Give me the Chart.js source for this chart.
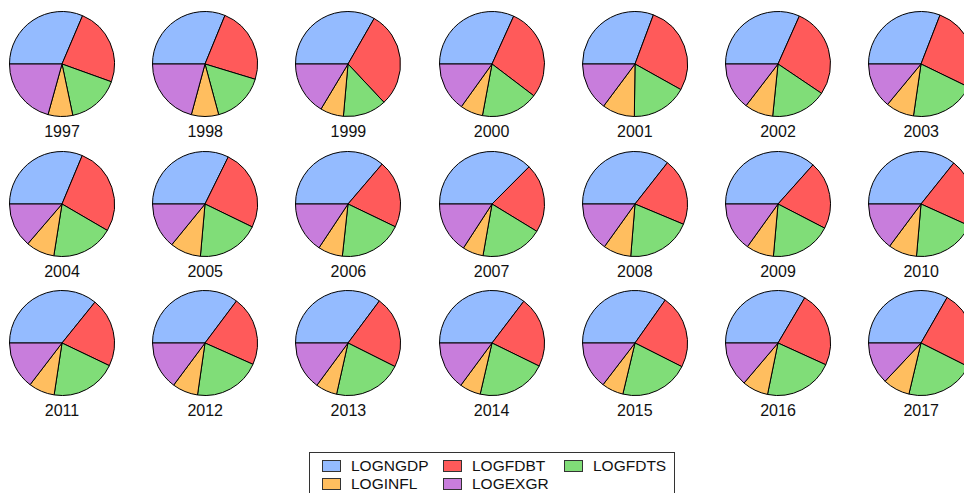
<!DOCTYPE html>
<html>
<head>
<meta charset="utf-8">
<script src="https://cdn.jsdelivr.net/npm/chart.js@4.4.1/dist/chart.umd.min.js"></script>
<style>
    html, body {
        margin: 0;
        padding: 0;
        width: 964px;
        height: 493px;
        overflow: hidden;
        background: #fff;
        font-family: "Liberation Sans", Arial, sans-serif;
    }
    #wrap {
        position: relative;
        width: 964px;
        height: 493px;
    }
    .pie {
        position: absolute;
    }
    .year {
        position: absolute;
        width: 100px;
        text-align: center;
        font-size: 16px;
        color: #111;
        line-height: 18px;
    }
    #legend {
        position: absolute;
        left: 309px;
        top: 452px;
        width: 366px;
        height: 60px;
        border: 1px solid #333;
        box-sizing: border-box;
    }
    .item {
        position: absolute;
        font-size: 15.5px;
        color: #111;
        line-height: 18px;
    }
    .item span {
        display: inline-block;
        width: 17px;
        height: 10px;
        border: 1px solid #333;
        margin-right: 10px;
        vertical-align: -1px;
    }
</style>
</head>
<body>
<div id="wrap"></div>

<script>
// Data (shares of each pie, clockwise from 9 o'clock)
const years = ['1997', '1998', '1999', '2000', '2001', '2002', '2003',
    '2004', '2005', '2006', '2007', '2008', '2009', '2010',
    '2011', '2012', '2013', '2014', '2015', '2016', '2017'];
const series = ['LOGNGDP', 'LOGFDBT', 'LOGFDTS', 'LOGINFL', 'LOGEXGR'];
const logngdp = [31.4, 31.2, 33.3, 31.8, 30.7, 31.7, 30.9,
    31.3, 32.3, 36.3, 37.4, 35.6, 36.6, 35.7,
    35.8, 35.2, 35.2, 35.4, 34.8, 33.5, 33.3];
const logfdbt = [24.1, 23.5, 29.7, 28.6, 27.4, 27.8, 26.3,
    27.1, 24.9, 20.9, 21.2, 20.7, 21.0, 21.0,
    21.3, 21.4, 22.2, 21.9, 22.7, 23.3, 24.1];
const logfdts = [16.2, 16.1, 13.4, 17.6, 17.1, 17.2, 20.1,
    19.1, 19.2, 19.6, 19.0, 20.0, 18.8, 19.6,
    20.3, 20.6, 21.1, 21.4, 21.3, 21.4, 21.3];
const loginfl = [7.6, 8.4, 7.2, 7.0, 10.0, 8.8, 8.7,
    8.8, 9.5, 7.6, 6.4, 8.6, 8.5, 8.8,
    8.0, 7.9, 6.6, 6.5, 6.7, 8.0, 8.3];
const logexgr = [20.7, 20.8, 16.4, 15.1, 14.8, 14.6, 14.0,
    13.7, 14.1, 15.7, 15.8, 15.1, 15.1, 14.8,
    14.6, 14.8, 14.9, 14.9, 14.6, 13.8, 13.0];

const colors = [
    'rgb(148,187,255)',
    'rgb(255,90,90)',
    'rgb(128,221,120)',
    'rgb(255,190,95)',
    'rgb(200,125,220)'
];

// grid of small pies
const cols = 7;
const x0 = 62, dx = 143.2;
const y0 = 64, dy = 139.5;
const size = 106;

const wrap = document.getElementById('wrap');

years.forEach(function(year, i) {
    const cx = x0 + (i % cols) * dx;
    const cy = y0 + Math.floor(i / cols) * dy;

    const canvas = document.createElement('canvas');
    canvas.className = 'pie';
    canvas.width = size;
    canvas.height = size;
    canvas.style.left = (cx - size / 2) + 'px';
    canvas.style.top = (cy - size / 2) + 'px';
    wrap.appendChild(canvas);

    const label = document.createElement('div');
    label.className = 'year';
    label.innerText = year;
    label.style.left = (cx - 50) + 'px';
    label.style.top = (cy + 59) + 'px';
    wrap.appendChild(label);

    new Chart(canvas, {
        type: 'pie',
        data: {
            labels: series,
            datasets: [{
                data: [logngdp[i], logfdbt[i], logfdts[i], loginfl[i], logexgr[i]],
                backgroundColor: colors,
                borderColor: '#000',
                borderWidth: 1
            }]
        },
        options: {
            responsive: false,
            animation: false,
            rotation: -90,
            events: [],
            layout: { padding: 0 },
            plugins: {
                legend: { display: false },
                tooltip: { enabled: false }
            }
        }
    });
});

// Legend
const legend = document.createElement('div');
legend.id = 'legend';
wrap.appendChild(legend);
const legendX = [12, 133, 254];
series.forEach(function(name, i) {
    const item = document.createElement('div');
    item.className = 'item';
    item.style.left = legendX[i % 3] + 'px';
    item.style.top = (4 + Math.floor(i / 3) * 18) + 'px';
    item.innerHTML = '<span style="background:' + colors[i] + '"></span>' + name;
    legend.appendChild(item);
});
</script>
</body>
</html>
